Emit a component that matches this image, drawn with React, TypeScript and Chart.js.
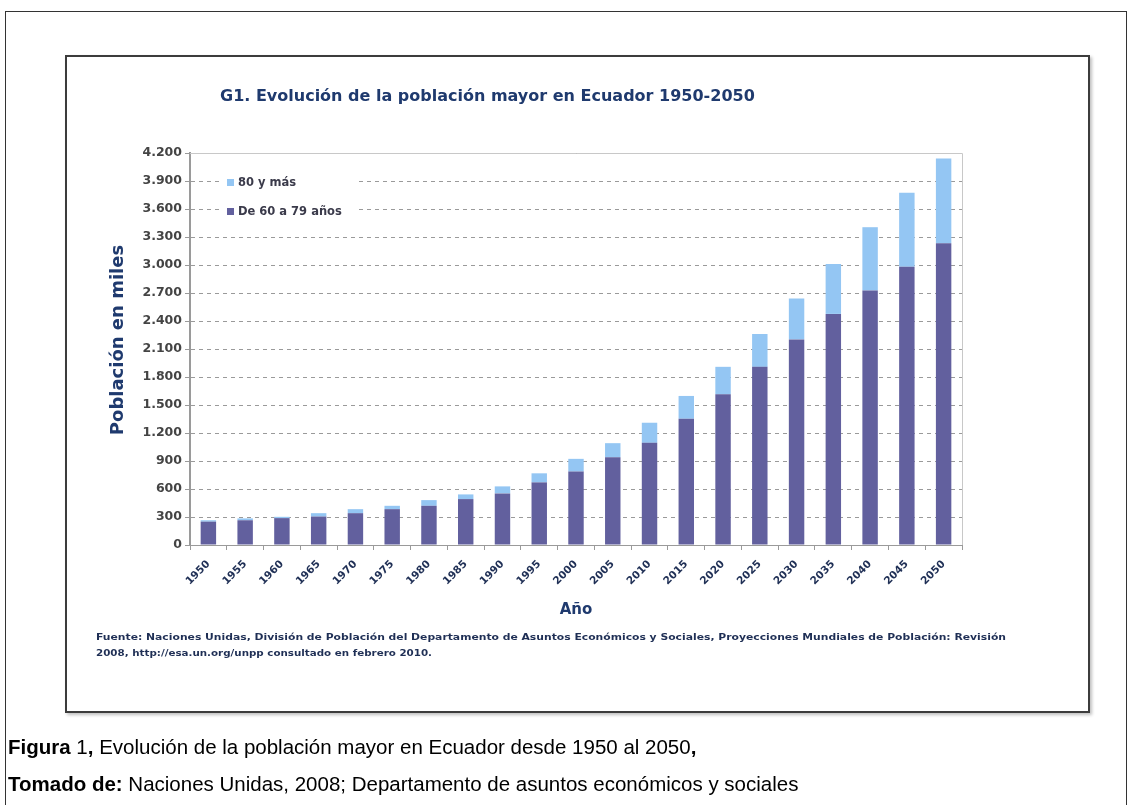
import React, { useEffect, useLayoutEffect, useRef } from "react";
import { Chart, registerables } from "chart.js";

Chart.register(...registerables);

// ---------- data ----------
const years = ["1950", "1955", "1960", "1965", "1970", "1975", "1980", "1985", "1990", "1995", "2000", "2005", "2010", "2015", "2020", "2025", "2030", "2035", "2040", "2045", "2050"];
const age60to79 = [250, 265, 288, 305, 341, 384, 420, 492, 553, 671, 787, 940, 1095, 1353, 1615, 1909, 2203, 2476, 2727, 2982, 3233];
const age80plus = [15, 20, 14, 36, 43, 36, 61, 50, 75, 97, 136, 151, 215, 244, 294, 352, 438, 535, 678, 793, 908];
const yTickValues = [0, 300, 600, 900, 1200, 1500, 1800, 2100, 2400, 2700, 3000, 3300, 3600, 3900, 4200];
const seriesNames = ["De 60 a 79 años", "80 y más"];
const chartTitle = "G1. Evolución de la población mayor en Ecuador 1950-2050";
const yAxisTitle = "Población en miles";
const xAxisTitle = "Año";
const sourceLines = [
  "Fuente: Naciones Unidas, División de Población del Departamento de Asuntos Económicos y Sociales, Proyecciones Mundiales de Población: Revisión",
  "2008, http://esa.un.org/unpp consultado en febrero 2010.",
];

// ---------- styles ----------
const DARK = "#62609E";
const LIGHT = "#94C6F3";
const NAVY = "#1F3A6E";
const W = 1129;
const H = 805;
const PLOT_LEFT = 190;
const PLOT_RIGHT = 962;
const PLOT_TOP = 153;
const PLOT_BOTTOM = 545;

const fmt = (v: number) => {
  if (v >= 1000) {
    const t = Math.floor(v / 1000);
    const r = v % 1000;
    return `${t}.${String(r).padStart(3, "0")}`;
  }
  return String(v);
};

const framePlugin = {
  id: "frameAndLegend",
  beforeDatasetsDraw(chart: any) {
    const { ctx, chartArea } = chart;
    ctx.save();
    // plot frame (top & right)
    ctx.strokeStyle = "#c8c8c8";
    ctx.lineWidth = 1;
    ctx.setLineDash([]);
    ctx.beginPath();
    ctx.moveTo(chartArea.left, chartArea.top + 0.5);
    ctx.lineTo(chartArea.right + 0.5, chartArea.top + 0.5);
    ctx.lineTo(chartArea.right + 0.5, chartArea.bottom);
    ctx.stroke();
    // legend inside plot
    const lx = chartArea.left + 30;
    const ly = chartArea.top + 15;
    ctx.fillStyle = "#ffffff";
    ctx.fillRect(lx, ly, 138, 58);
    const items = [
      { label: seriesNames[1], color: LIGHT },
      { label: seriesNames[0], color: DARK },
    ];
    ctx.font = "bold 11.5px 'DejaVu Sans'";
    ctx.textBaseline = "middle";
    items.forEach((it, i) => {
      const cy = ly + 15 + i * 29;
      ctx.fillStyle = it.color;
      ctx.fillRect(lx + 7, cy - 4, 7, 7);
      ctx.fillStyle = "#3a3a4a";
      ctx.fillText(it.label, lx + 18, cy);
    });
    ctx.restore();
  },
  afterDraw(chart: any) {
    const { ctx } = chart;
    ctx.save();
    ctx.translate(118, 340);
    ctx.rotate(-Math.PI / 2);
    ctx.font = "bold 18px 'DejaVu Sans'";
    ctx.fillStyle = NAVY;
    ctx.textAlign = "center";
    ctx.textBaseline = "middle";
    ctx.fillText(yAxisTitle, 0, 0);
    ctx.restore();
  },
};

function FitText(props: { x: number; y: number; width: number; style: React.CSSProperties; children: React.ReactNode }) {
  const ref = useRef<HTMLSpanElement>(null);
  useLayoutEffect(() => {
    const el = ref.current;
    if (!el) return;
    el.style.transform = "none";
    const w = el.getBoundingClientRect().width;
    if (w > 0) el.style.transform = `scaleX(${props.width / w})`;
  }, [props.width]);
  return (
    <span
      ref={ref}
      style={{
        position: "absolute",
        left: props.x,
        top: props.y,
        whiteSpace: "nowrap",
        transformOrigin: "0 0",
        lineHeight: 1,
        ...props.style,
      }}
    >
      {props.children}
    </span>
  );
}

export default function App() {
  const canvasRef = useRef<HTMLCanvasElement>(null);

  useEffect(() => {
    if (!canvasRef.current) return;
    const chart = new Chart(canvasRef.current, {
      type: "bar",
      data: {
        labels: years,
        datasets: [
          { label: seriesNames[0], data: age60to79, backgroundColor: DARK, barPercentage: 0.42, categoryPercentage: 1 },
          { label: seriesNames[1], data: age80plus, backgroundColor: LIGHT, barPercentage: 0.42, categoryPercentage: 1 },
        ],
      },
      options: {
        animation: false,
        responsive: false,
        events: [],
        layout: {
          padding: { left: 104, top: PLOT_TOP, right: W - PLOT_RIGHT, bottom: H - PLOT_BOTTOM - 78 },
        },
        plugins: {
          legend: { display: false },
          tooltip: { enabled: false },
          title: { display: false },
        },
        scales: {
          x: {
            stacked: true,
            afterFit: (s: any) => {
              s.height = 78;
            },
            grid: { display: true, drawOnChartArea: false, drawTicks: true, tickLength: 5, color: "#9a9a9a", offset: true },
            border: { display: true, color: "#9a9a9a", width: 1 },
            ticks: {
              autoSkip: false,
              minRotation: 45,
              maxRotation: 45,
              padding: 8,
              color: "#1F2F55",
              font: { family: "DejaVu Sans", size: 10.5, weight: "bold" },
            },
            title: {
              display: true,
              text: xAxisTitle,
              color: NAVY,
              font: { family: "DejaVu Sans", size: 15, weight: "bold" },
              padding: { top: 4, bottom: 4 },
            },
          },
          y: {
            stacked: true,
            min: 0,
            max: 4200,
            afterFit: (s: any) => {
              s.width = PLOT_LEFT - 104;
            },
            afterBuildTicks: (s: any) => {
              s.ticks = yTickValues.map((v) => ({ value: v }));
            },
            grid: { color: "#9a9a9a", lineWidth: 1, drawTicks: true, tickLength: 5, tickColor: "#9a9a9a" },
            border: { display: true, color: "#9a9a9a", width: 2, dash: [4, 4] },
            ticks: {
              padding: 3,
              color: "#444",
              font: { family: "DejaVu Sans", size: 12.5, weight: "bold" },
              callback: (v: any) => fmt(Number(v)),
            },
            title: { display: false },
          },
        },
      },
      plugins: [framePlugin],
    } as any);
    return () => chart.destroy();
  }, []);

  const captionStyle: React.CSSProperties = {
    position: "absolute",
    left: 8,
    whiteSpace: "nowrap",
    lineHeight: 1,
    fontFamily: "'Liberation Sans', Arial, sans-serif",
    fontSize: 20.5,
    color: "#000",
  };

  return (
    <div style={{ position: "absolute", left: 0, top: 0, width: W, height: H, background: "#fff", overflow: "hidden" }}>
      {/* outer frame */}
      <div
        style={{
          position: "absolute",
          left: 5,
          top: 11,
          width: W - 5 - 2,
          height: H,
          borderLeft: "1px solid #333",
          borderTop: "1px solid #333",
          borderRight: "1px solid #333",
          boxSizing: "border-box",
        }}
      />
      {/* chart box */}
      <div
        style={{
          position: "absolute",
          left: 65,
          top: 55,
          width: 1090 - 65,
          height: 713 - 55,
          border: "2px solid #3c3c3c",
          boxShadow: "2px 2px 3px rgba(0,0,0,0.25)",
          boxSizing: "border-box",
        }}
      />
      <canvas ref={canvasRef} width={W} height={H} style={{ position: "absolute", left: 0, top: 0 }} />
      <span
        style={{
          position: "absolute",
          left: 220,
          top: 88,
          whiteSpace: "nowrap",
          lineHeight: 1,
          fontFamily: "'DejaVu Sans'",
          fontWeight: "bold",
          fontSize: 16,
          color: NAVY,
        }}
      >
        {chartTitle}
      </span>
      <FitText x={96} y={632} width={910} style={{ fontFamily: "'DejaVu Sans'", fontWeight: "bold", fontSize: 9.5, color: "#1F2F55" }}>
        {sourceLines[0]}
      </FitText>
      <FitText x={96} y={648} width={336} style={{ fontFamily: "'DejaVu Sans'", fontWeight: "bold", fontSize: 9.5, color: "#1F2F55" }}>
        {sourceLines[1]}
      </FitText>
      <div style={{ ...captionStyle, top: 737 }}>
        <b>Figura</b> 1<b>,</b> Evolución de la población mayor en Ecuador desde 1950 al 2050<b>,</b>
      </div>
      <div style={{ ...captionStyle, top: 774 }}>
        <b>Tomado de:</b> Naciones Unidas, 2008; Departamento de asuntos económicos y sociales
      </div>
    </div>
  );
}
